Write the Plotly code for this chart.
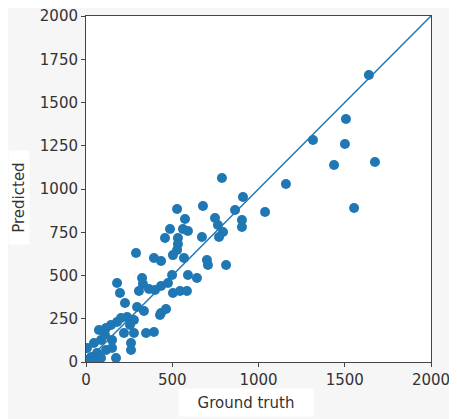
import plotly.graph_objects as go

# ground truth vs predicted values
ground_truth = [
    1640, 1507, 1316, 1501, 1438, 1675, 1159, 1554, 1038, 910,
    904, 904, 864, 788, 794, 812, 528, 678, 574, 748,
    765, 487, 562, 591, 458, 533, 672, 771, 533, 528,
    290, 394, 435, 504, 568, 701, 707, 499, 591, 643,
    325, 180, 330, 475, 197, 307, 365, 400, 435, 504,
    545, 585, 226, 296, 336, 435, 464, 238, 180, 145,
    116, 278, 220, 278, 348, 394, 87, 46, 261, 261,
    151, 64, 29, 87, 174, 6, 151, 0, 52, 116,
    429, 110, 75, 203, 255,
]
predicted = [
    1659, 1405, 1283, 1260, 1139, 1156, 1029, 890, 867, 954,
    821, 780, 879, 1064, 751, 561, 884, 902, 827, 832,
    792, 769, 769, 757, 717, 717, 723, 723, 682, 647,
    630, 601, 584, 618, 601, 590, 561, 503, 503, 486,
    486, 457, 451, 457, 399, 410, 422, 416, 439, 399,
    410, 410, 341, 318, 295, 283, 306, 260, 231, 214,
    197, 243, 168, 168, 168, 173, 127, 110, 110, 69,
    81, 52, 29, 23, 23, 81, 127, 12, 12, 69,
    272, 156, 185, 254, 214,
]
diag = [0, 2000]
x_ticks = [0, 500, 1000, 1500, 2000]
y_ticks = [0, 250, 500, 750, 1000, 1250, 1500, 1750, 2000]

blue = "#1f77b4"
text_color = "#333333"

fig = go.Figure()
fig.add_trace(go.Scatter(
    x=ground_truth, y=predicted, mode="markers",
    marker=dict(color=blue, size=10, line=dict(width=0)),
))
fig.add_trace(go.Scatter(
    x=diag, y=diag, mode="lines",
    line=dict(color=blue, width=1.5),
))

axis_style = dict(
    range=[0, 2000], showgrid=False, zeroline=False,
    showline=True, linecolor="#444444", linewidth=1, mirror=True,
    ticks="outside", ticklen=4, tickcolor="#444444",
    ticklabeloverflow="allow", automargin=False,
    tickfont=dict(family="DejaVu Sans", size=15, color=text_color),
)
fig.update_xaxes(tickvals=x_ticks, **axis_style)
fig.update_yaxes(tickvals=y_ticks, **axis_style)

# axis labels drawn as white boxed annotations, like the reference
fig.add_annotation(
    text="Ground truth", xref="paper", yref="paper", x=0.464, y=-0.117,
    xanchor="center", yanchor="middle", showarrow=False,
    bgcolor="white", width=132, height=25,
    font=dict(family="DejaVu Sans", size=15, color=text_color),
)
fig.add_annotation(
    text="Predicted", xref="paper", yref="paper", x=-0.194, y=0.474,
    xanchor="center", yanchor="middle", showarrow=False, textangle=-90,
    bgcolor="white", width=91, height=18,
    font=dict(family="DejaVu Sans", size=15, color=text_color),
)

# page body adds an 8px margin, so the figure is a bit smaller
fig.update_layout(
    width=449, height=411,
    margin=dict(l=78, r=26, t=8, b=57),
    paper_bgcolor="#f6f6f6", plot_bgcolor="white",
    showlegend=False,
)
fig.write_html("out.html")
